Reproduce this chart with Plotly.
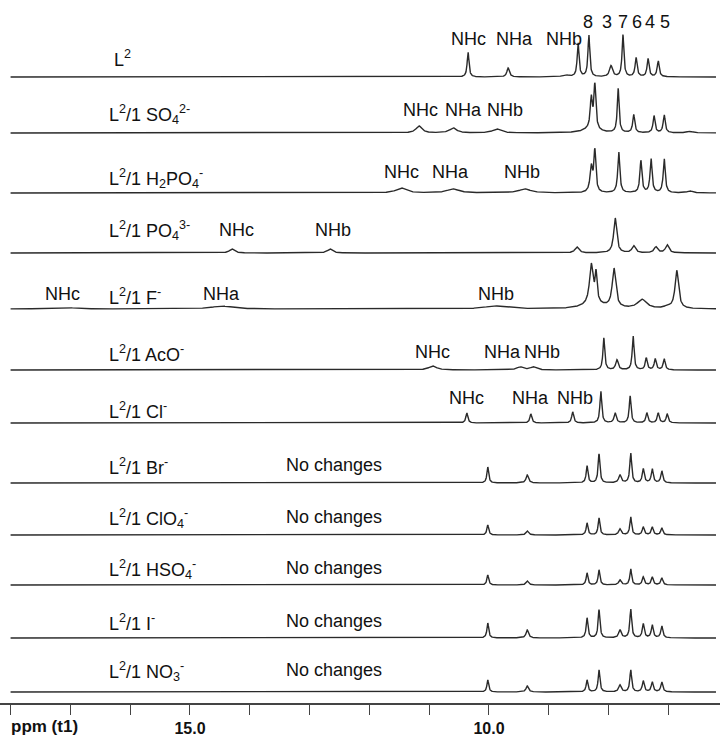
import numpy as np
import plotly.graph_objects as go

# ---------------- data (peak lists, ppm / relative intensity / half-width ppm) -------------
row_names = [
    "L<sup>2</sup>",
    "L<sup>2</sup>/1 SO<sub>4</sub><sup>2-</sup>",
    "L<sup>2</sup>/1 H<sub>2</sub>PO<sub>4</sub><sup>-</sup>",
    "L<sup>2</sup>/1 PO<sub>4</sub><sup>3-</sup>",
    "L<sup>2</sup>/1 F<sup>-</sup>",
    "L<sup>2</sup>/1 AcO<sup>-</sup>",
    "L<sup>2</sup>/1 Cl<sup>-</sup>",
    "L<sup>2</sup>/1 Br<sup>-</sup>",
    "L<sup>2</sup>/1 ClO<sub>4</sub><sup>-</sup>",
    "L<sup>2</sup>/1 HSO<sub>4</sub><sup>-</sup>",
    "L<sup>2</sup>/1 I<sup>-</sup>",
    "L<sup>2</sup>/1 NO<sub>3</sub><sup>-</sup>",
]

L2_ppm = [10.35, 9.68, 8.72, 8.51, 8.33, 7.96, 7.76, 7.54, 7.34, 7.17]
L2_int = [25, 9, 2, 34, 42, 11, 42, 19, 18, 16]
L2_w = [0.018, 0.025, 0.06, 0.018, 0.018, 0.03, 0.018, 0.02, 0.02, 0.02]

SO4_ppm = [11.17, 10.60, 9.87, 8.30, 8.29, 8.23, 7.84, 7.58, 7.24, 7.07, 6.64]
SO4_int = [7, 5, 4, 4, 30, 44, 44, 18, 17, 18, 1.5]
SO4_w = [0.06, 0.07, 0.08, 0.15, 0.02, 0.02, 0.018, 0.02, 0.02, 0.02, 0.06]

H2PO4_ppm = [11.47, 10.60, 9.40, 8.29, 8.23, 7.83, 7.46, 7.29, 7.07, 6.64]
H2PO4_int = [5, 4, 4, 25, 41, 41, 32, 34, 34, 2]
H2PO4_w = [0.10, 0.12, 0.12, 0.025, 0.02, 0.02, 0.02, 0.02, 0.02, 0.05]

PO4_ppm = [14.30, 12.66, 8.53, 7.89, 7.58, 7.21, 7.02]
PO4_int = [4, 4, 6, 35, 7, 6, 8]
PO4_w = [0.05, 0.05, 0.04, 0.03, 0.035, 0.035, 0.035]

F_ppm = [17.09, 14.47, 9.90, 8.25, 8.29, 8.21, 7.91, 7.44, 7.02, 6.86]
F_int = [1.5, 3, 3, 5, 39, 28, 39, 9, 2, 38]
F_w = [0.2, 0.2, 0.2, 0.2, 0.035, 0.02, 0.035, 0.09, 0.05, 0.035]

AcO_ppm = [10.94, 9.48, 9.26, 8.08, 7.86, 7.59, 7.37, 7.22, 7.07]
AcO_int = [4, 3, 3, 32, 10, 34, 12, 11, 11]
AcO_w = [0.08, 0.06, 0.06, 0.018, 0.025, 0.018, 0.02, 0.02, 0.02]

Cl_ppm = [10.37, 9.30, 8.60, 8.13, 7.89, 7.64, 7.36, 7.17, 7.02]
Cl_int = [10, 9, 11, 32, 10, 27, 10, 10, 9]
Cl_w = [0.02, 0.02, 0.02, 0.018, 0.022, 0.018, 0.02, 0.02, 0.02]

nochange_ppm = [10.02, 9.36, 8.36, 8.16, 7.81, 7.63, 7.42, 7.27, 7.11]
nochange_w = [0.018, 0.025, 0.018, 0.018, 0.025, 0.018, 0.02, 0.02, 0.02]
Br_int = [16, 8, 17, 29, 8, 30, 14, 14, 12]
ClO4_int = [10, 4, 12, 17, 6, 18, 8, 8, 7]
HSO4_int = [10, 4, 12, 15, 5, 16, 8, 8, 7]
I_int = [15, 8, 20, 28, 8, 29, 14, 13, 12]
NO3_int = [12, 6, 12, 22, 7, 22, 11, 10, 10]

peak_lists = [
    (L2_ppm, L2_int, L2_w),
    (SO4_ppm, SO4_int, SO4_w),
    (H2PO4_ppm, H2PO4_int, H2PO4_w),
    (PO4_ppm, PO4_int, PO4_w),
    (F_ppm, F_int, F_w),
    (AcO_ppm, AcO_int, AcO_w),
    (Cl_ppm, Cl_int, Cl_w),
    (nochange_ppm, Br_int, nochange_w),
    (nochange_ppm, ClO4_int, nochange_w),
    (nochange_ppm, HSO4_int, nochange_w),
    (nochange_ppm, I_int, nochange_w),
    (nochange_ppm, NO3_int, nochange_w),
]

# peak assignment labels: (row, text, ppm)
nh_labels = [
    (0, "NHc", 10.35), (0, "NHa", 9.58), (0, "NHb", 8.75),
    (1, "NHc", 11.14), (1, "NHa", 10.43), (1, "NHb", 9.73),
    (2, "NHc", 11.47), (2, "NHa", 10.65), (2, "NHb", 9.45),
    (3, "NHc", 14.23), (3, "NHb", 12.61),
    (4, "NHc", 17.14), (4, "NHa", 14.48), (4, "NHb", 9.88),
    (5, "NHc", 10.95), (5, "NHa", 9.78), (5, "NHb", 9.11),
    (6, "NHc", 10.37), (6, "NHa", 9.30), (6, "NHb", 8.56),
]
proton_numbers = ["8", "3", "7", "6", "4", "5"]
proton_ppm = [8.34, 8.03, 7.76, 7.53, 7.31, 7.06]
no_change_rows = [7, 8, 9, 10, 11]

tick_vals = [18, 17, 16, 15, 14, 13, 12, 11, 10, 9, 8, 7]
tick_text = ["", "", "", "15.0", "", "", "", "", "10.0", "", "", ""]

# ---------------- layout (positions in plot pixels from top; y value = -pixel) ----------------
row_base = [77, 133, 193, 253, 309, 370, 423, 483, 535, 585, 638, 692]
row_label_y = [58, 114, 178, 230, 296, 353, 410, 466, 518, 569, 622, 671]
nh_label_y = [39, 110, 172, 230, 294, 352, 398]
PLOT_H = 703
LINE = "#2a2a2a"
FONT = "Liberation Sans, Arial, sans-serif"

x = np.arange(18.0, 6.2, -0.004)

fig = go.Figure()
for i, (pp, hh, ww) in enumerate(peak_lists):
    y = np.full_like(x, -row_base[i], dtype=float)
    for p, h, w in zip(pp, hh, ww):
        y += h * w ** 2 / ((x - p) ** 2 + w ** 2)
    fig.add_trace(go.Scatter(x=x, y=y, mode="lines", line=dict(color=LINE, width=1.4),
                             hoverinfo="skip", showlegend=False))

ann = []
for i, name in enumerate(row_names):
    ann.append(dict(x=16.30 if i == 0 else 16.38, y=-row_label_y[i], xref="x", yref="y",
                    text=name, showarrow=False, xanchor="left", yanchor="middle",
                    font=dict(size=18, color="#111", family=FONT)))
for r in no_change_rows:
    ann.append(dict(x=13.43, y=-row_label_y[r] + 1, xref="x", yref="y", text="No changes",
                    showarrow=False, xanchor="left", yanchor="middle",
                    font=dict(size=18, color="#111", family=FONT)))
for r, t, p in nh_labels:
    ann.append(dict(x=p, y=-nh_label_y[r], xref="x", yref="y", text=t,
                    showarrow=False, xanchor="center", yanchor="middle",
                    font=dict(size=18, color="#111", family=FONT)))
for t, p in zip(proton_numbers, proton_ppm):
    ann.append(dict(x=p, y=-22, xref="x", yref="y", text=t, showarrow=False,
                    xanchor="center", yanchor="middle",
                    font=dict(size=18, color="#111", family=FONT)))
ann.append(dict(x=0.012, y=-0.034, xref="paper", yref="paper", text="<b>ppm (t1)</b>",
                showarrow=False, xanchor="left", yanchor="middle",
                font=dict(size=17, color="#111", family=FONT)))

fig.update_layout(
    width=720, height=737,
    margin=dict(l=0, r=0, t=0, b=737 - PLOT_H),
    paper_bgcolor="white", plot_bgcolor="white",
    annotations=ann,
    xaxis=dict(range=[18.177, 6.137], showgrid=False, zeroline=False,
               showline=True, linecolor="#444", linewidth=1.5,
               ticks="outside", ticklen=10, tickwidth=1.3, tickcolor="#444",
               tickvals=tick_vals, ticktext=tick_text,
               tickfont=dict(size=16, color="#111", family=FONT, weight="bold"),
               fixedrange=True),
    yaxis=dict(range=[-PLOT_H, 0], visible=False, fixedrange=True),
)

fig.write_html("out.html")
